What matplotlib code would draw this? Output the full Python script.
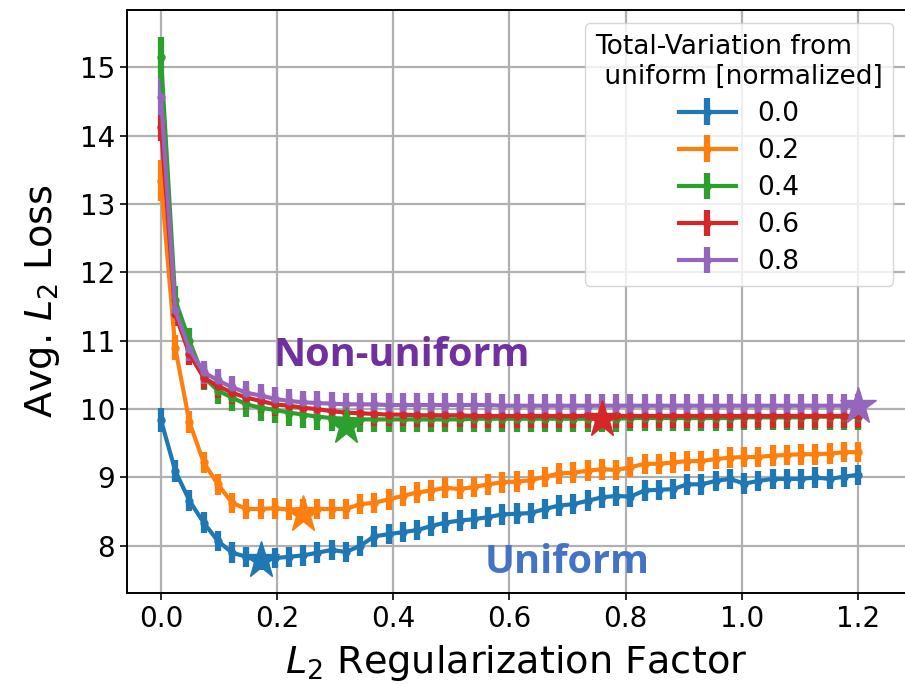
import numpy as np
import matplotlib
matplotlib.use('Agg')
from matplotlib import pyplot as plt

# regularization sweep (50 settings from 0 to 1.2)
reg = [0.0, 0.0245, 0.0490, 0.0735, 0.0980, 0.1224, 0.1469, 0.1714, 0.1959, 0.2204,
       0.2449, 0.2694, 0.2939, 0.3184, 0.3429, 0.3673, 0.3918, 0.4163, 0.4408, 0.4653,
       0.4898, 0.5143, 0.5388, 0.5633, 0.5878, 0.6122, 0.6367, 0.6612, 0.6857, 0.7102,
       0.7347, 0.7592, 0.7837, 0.8082, 0.8327, 0.8571, 0.8816, 0.9061, 0.9306, 0.9551,
       0.9796, 1.0041, 1.0286, 1.0531, 1.0776, 1.1020, 1.1265, 1.1510, 1.1755, 1.2]

tv_labels = ['0.0', '0.2', '0.4', '0.6', '0.8']

loss_00 = [9.84, 9.10, 8.66, 8.34, 8.07, 7.90, 7.84, 7.80, 7.82, 7.84,
           7.86, 7.90, 7.94, 7.91, 8.00, 8.14, 8.17, 8.20, 8.23, 8.29,
           8.34, 8.37, 8.39, 8.42, 8.46, 8.47, 8.48, 8.54, 8.59, 8.61,
           8.66, 8.71, 8.73, 8.72, 8.81, 8.82, 8.83, 8.90, 8.90, 8.95,
           8.98, 8.91, 8.95, 8.98, 8.98, 8.98, 9.00, 8.98, 9.01, 9.04]
loss_02 = [13.34, 10.90, 9.81, 9.22, 8.90, 8.63, 8.54, 8.54, 8.55, 8.53,
           8.54, 8.54, 8.54, 8.54, 8.61, 8.63, 8.68, 8.73, 8.78, 8.81,
           8.85, 8.83, 8.86, 8.90, 8.93, 8.94, 8.96, 9.01, 9.06, 9.07,
           9.10, 9.12, 9.11, 9.15, 9.20, 9.20, 9.22, 9.24, 9.24, 9.27,
           9.29, 9.30, 9.30, 9.32, 9.33, 9.34, 9.34, 9.35, 9.37, 9.37]
loss_04 = [15.15, 11.60, 11.00, 10.47, 10.27, 10.17, 10.07, 10.02, 9.99, 9.95,
           9.92, 9.89, 9.87, 9.86, 9.85, 9.85, 9.85, 9.85, 9.85, 9.85,
           9.85, 9.85, 9.86, 9.86, 9.86, 9.86, 9.86, 9.86, 9.86, 9.86,
           9.86, 9.86, 9.86, 9.87, 9.87, 9.87, 9.87, 9.87, 9.87, 9.87,
           9.87, 9.88, 9.88, 9.88, 9.88, 9.88, 9.89, 9.89, 9.89, 9.89]
loss_06 = [14.13, 11.39, 10.81, 10.46, 10.34, 10.24, 10.17, 10.12, 10.07, 10.05,
           10.02, 10.00, 9.97, 9.95, 9.94, 9.93, 9.92, 9.92, 9.91, 9.91,
           9.91, 9.91, 9.90, 9.90, 9.90, 9.90, 9.90, 9.90, 9.90, 9.90,
           9.90, 9.90, 9.90, 9.90, 9.90, 9.90, 9.90, 9.90, 9.90, 9.90,
           9.90, 9.90, 9.90, 9.90, 9.90, 9.90, 9.90, 9.90, 9.90, 9.90]
loss_08 = [14.57, 11.45, 10.88, 10.54, 10.42, 10.32, 10.24, 10.20, 10.15, 10.12,
           10.10, 10.09, 10.08, 10.07, 10.07, 10.07, 10.06, 10.06, 10.06, 10.06,
           10.06, 10.06, 10.06, 10.06, 10.05, 10.05, 10.05, 10.05, 10.05, 10.05,
           10.05, 10.05, 10.05, 10.05, 10.05, 10.05, 10.05, 10.05, 10.05, 10.05,
           10.05, 10.05, 10.05, 10.05, 10.05, 10.05, 10.05, 10.05, 10.05, 10.05]

err_00 = [0.18, 0.16, 0.15, 0.15, 0.15, 0.15, 0.15, 0.15, 0.15, 0.15,
          0.15, 0.15, 0.15, 0.15, 0.15, 0.15, 0.15, 0.15, 0.15, 0.15,
          0.15, 0.15, 0.15, 0.15, 0.15, 0.15, 0.15, 0.15, 0.15, 0.15,
          0.15, 0.15, 0.15, 0.15, 0.15, 0.15, 0.15, 0.15, 0.15, 0.15,
          0.15, 0.15, 0.15, 0.15, 0.15, 0.15, 0.15, 0.15, 0.15, 0.15]
err_02 = [0.30, 0.18, 0.16, 0.15, 0.15, 0.15, 0.15, 0.15, 0.15, 0.15,
          0.15, 0.15, 0.15, 0.15, 0.15, 0.15, 0.15, 0.15, 0.15, 0.15,
          0.15, 0.15, 0.15, 0.15, 0.15, 0.15, 0.15, 0.15, 0.15, 0.15,
          0.15, 0.15, 0.15, 0.15, 0.15, 0.15, 0.15, 0.15, 0.15, 0.15,
          0.15, 0.15, 0.15, 0.15, 0.15, 0.15, 0.15, 0.15, 0.15, 0.15]
err_04 = [0.30, 0.20, 0.19, 0.19, 0.19, 0.19, 0.19, 0.19, 0.19, 0.19,
          0.19, 0.19, 0.19, 0.19, 0.19, 0.19, 0.19, 0.19, 0.19, 0.19,
          0.19, 0.19, 0.19, 0.19, 0.19, 0.19, 0.19, 0.19, 0.19, 0.19,
          0.19, 0.19, 0.19, 0.19, 0.19, 0.19, 0.19, 0.19, 0.19, 0.19,
          0.19, 0.19, 0.19, 0.19, 0.19, 0.19, 0.19, 0.19, 0.19, 0.19]
err_06 = [0.20, 0.18, 0.17, 0.17, 0.17, 0.17, 0.17, 0.17, 0.17, 0.17,
          0.17, 0.17, 0.17, 0.17, 0.17, 0.17, 0.17, 0.17, 0.17, 0.17,
          0.17, 0.17, 0.17, 0.17, 0.17, 0.17, 0.17, 0.17, 0.17, 0.17,
          0.17, 0.17, 0.17, 0.17, 0.17, 0.17, 0.17, 0.17, 0.17, 0.17,
          0.17, 0.17, 0.17, 0.17, 0.17, 0.17, 0.17, 0.17, 0.17, 0.17]
err_08 = [0.27, 0.18, 0.17, 0.17, 0.17, 0.17, 0.17, 0.17, 0.17, 0.17,
          0.17, 0.17, 0.17, 0.17, 0.17, 0.17, 0.17, 0.17, 0.17, 0.17,
          0.17, 0.17, 0.17, 0.17, 0.17, 0.17, 0.17, 0.17, 0.17, 0.17,
          0.17, 0.17, 0.17, 0.17, 0.17, 0.17, 0.17, 0.17, 0.17, 0.17,
          0.17, 0.17, 0.17, 0.17, 0.17, 0.17, 0.17, 0.17, 0.17, 0.17]

# best setting of each curve (star)
best_x = [0.1714, 0.2449, 0.3184, 0.7592, 1.2]
best_y = [7.80, 8.46, 9.76, 9.85, 10.05]

losses = [loss_00, loss_02, loss_04, loss_06, loss_08]
errs = [err_00, err_02, err_04, err_06, err_08]
colors = ['tab:blue', 'tab:orange', 'tab:green', 'tab:red', 'tab:purple']

fig = plt.figure(figsize=(9.05, 6.85), dpi=100)
ax = fig.add_axes([127/905, 92/685, 779/905, 583/685])

for lab, y, e, c in zip(tv_labels, losses, errs, colors):
    ax.errorbar(reg, y, yerr=e, color=c, lw=3, marker='o', ms=5,
                elinewidth=4.5, capsize=0, label=lab)
for bx, by, c in zip(best_x, best_y, colors):
    ax.plot(bx, by, marker='*', ms=28, color=c, zorder=5)

ax.text(0.415, 10.78, 'Non-uniform', color='#7030A0', fontsize=28.5,
        fontweight='bold', family='Open Sans', ha='center', va='center')
ax.text(0.699, 7.75, 'Uniform', color='#4472C4', fontsize=28.5,
        fontweight='bold', family='Open Sans', ha='center', va='center')

ax.set_xlim(-0.0585, 1.2827)
ax.set_ylim(7.31, 15.84)
ax.set_xticks([0.0, 0.2, 0.4, 0.6, 0.8, 1.0, 1.2])
ax.set_yticks([8, 9, 10, 11, 12, 13, 14, 15])
ax.tick_params(labelsize=20, length=5, width=1.2)
ax.grid(True, color='#b0b0b0', lw=1.6)
for s in ax.spines.values():
    s.set_linewidth(1.4)
ax.spines['right'].set_visible(False)

ax.set_xlabel('$L_2$ Regularization Factor', fontsize=27.5, labelpad=7)
ax.set_ylabel('Avg. $L_2$ Loss', fontsize=27.5, labelpad=13)

leg = ax.legend(title='Total-Variation from\n uniform [normalized]', fontsize=19,
                title_fontsize=19, loc='upper right', handlelength=2.15,
                labelspacing=0.42)

plt.savefig('out.png', dpi=100)
